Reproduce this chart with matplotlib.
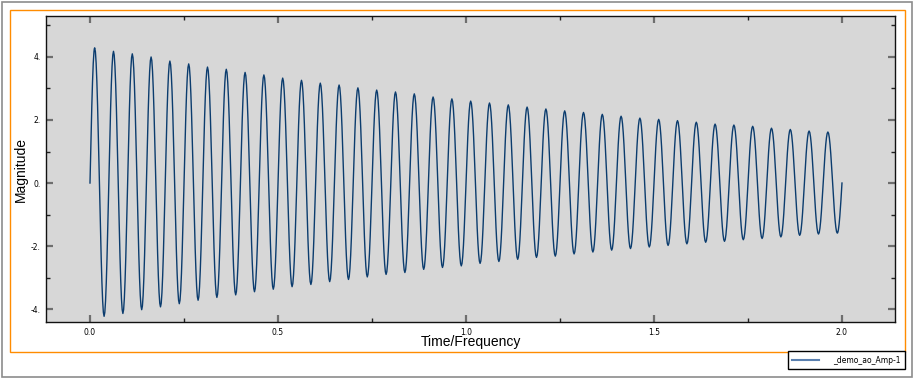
import numpy as np
import matplotlib.pyplot as plt
from matplotlib.patches import Rectangle
from matplotlib.ticker import MultipleLocator, FuncFormatter

# peak / trough values, one per cycle (20 cycles per unit)
peaks = [4.29, 4.18, 4.10, 4.00, 3.87, 3.78, 3.68, 3.61, 3.51, 3.43,
         3.33, 3.26, 3.17, 3.11, 3.02, 2.95, 2.89, 2.83, 2.73, 2.67,
         2.60, 2.54, 2.48, 2.41, 2.35, 2.29, 2.24, 2.18, 2.12, 2.06,
         2.02, 1.98, 1.93, 1.87, 1.84, 1.80, 1.74, 1.70, 1.65, 1.62]
troughs = [-4.23, -4.14, -4.02, -3.93, -3.83, -3.72, -3.63, -3.55, -3.45, -3.37,
           -3.29, -3.22, -3.13, -3.06, -2.98, -2.90, -2.84, -2.74, -2.68, -2.63,
           -2.55, -2.49, -2.42, -2.36, -2.32, -2.25, -2.19, -2.13, -2.08, -2.03,
           -1.98, -1.93, -1.88, -1.85, -1.80, -1.76, -1.71, -1.66, -1.62, -1.59]
freq = 20.0
label = '_demo_ao_Amp-1'

# knots: start at 0, alternate peak/trough, end at 0
kt = [0.0]
kv = [0.0]
for i in range(len(peaks)):
    kt += [(i + 0.25) / freq, (i + 0.75) / freq]
    kv += [peaks[i], troughs[i]]
kt.append(len(peaks) / freq)
kv.append(0.0)

t, y = [], []
n = len(kt)
for k in range(n - 1):
    s = np.linspace(0, 1, 14)[:-1] if k < n - 2 else np.linspace(0, 1, 14)
    a, b = kv[k], kv[k + 1]
    if k == 0:
        seg = b * np.sin(np.pi / 2 * s)
    elif k == n - 2:
        seg = a * np.cos(np.pi / 2 * s)
    else:
        seg = (a + b) / 2 + (a - b) / 2 * np.cos(np.pi * s)
    t.extend(kt[k] + s * (kt[k + 1] - kt[k]))
    y.extend(seg)

W, H = 914, 379
fig = plt.figure(figsize=(W / 100, H / 100), dpi=100)
fig.patches.append(Rectangle((2 / W, 2 / H), 910 / W, 375 / H, transform=fig.transFigure,
                             fill=False, ec='#8c8c8c', lw=1.2))
fig.patches.append(Rectangle((10 / W, 1 - 352 / H), 895 / W, 342 / H, transform=fig.transFigure,
                             fill=False, ec='#ff8c00', lw=1.0, zorder=5))

ax = fig.add_axes([46 / W, 1 - 322 / H, 849 / W, 306 / H])
ax.set_facecolor('#d7d7d7')
line, = ax.plot(t, y, color='#0b3c6e', lw=1.0)
ax.set_xlim(-0.117, 2.141)
ax.set_ylim(-4.41, 5.3)

ax.xaxis.set_major_locator(MultipleLocator(0.5))
ax.xaxis.set_minor_locator(MultipleLocator(0.25))
ax.yaxis.set_major_locator(MultipleLocator(2))
ax.yaxis.set_minor_locator(MultipleLocator(1))
ax.xaxis.set_major_formatter(FuncFormatter(lambda v, p: f'{v:.1f}'))
ax.yaxis.set_major_formatter(FuncFormatter(lambda v, p: f'{v:.0f}.'))
ax.tick_params(which='major', direction='in', top=True, right=True, length=5, width=1.6,
               color='#6e6e6e', labelsize=5.5, pad=4)
ax.tick_params(which='minor', direction='in', top=True, right=True, length=3, width=1.0,
               color='#222222')
for sp in ax.spines.values():
    sp.set_color('#111111')
    sp.set_linewidth(1.0)

ax.set_xlabel('Time/Frequency', family='Liberation Sans', fontsize=10, labelpad=-1)
ax.set_ylabel('Magnitude', family='Liberation Sans', fontsize=10, labelpad=2)

leg = fig.legend([line], [label], loc='upper right', bbox_to_anchor=(905 / W, 1 - 351 / H),
                 fontsize=5.5, frameon=True, fancybox=False, edgecolor='black', framealpha=1,
                 handlelength=3.5, borderpad=0.6, handletextpad=1.8, borderaxespad=0)
leg.get_frame().set_linewidth(1.0)
leg.legend_handles[0].set_color('#5a80b0')
leg.legend_handles[0].set_linewidth(1.5)

fig.savefig('out.png', dpi=100)
